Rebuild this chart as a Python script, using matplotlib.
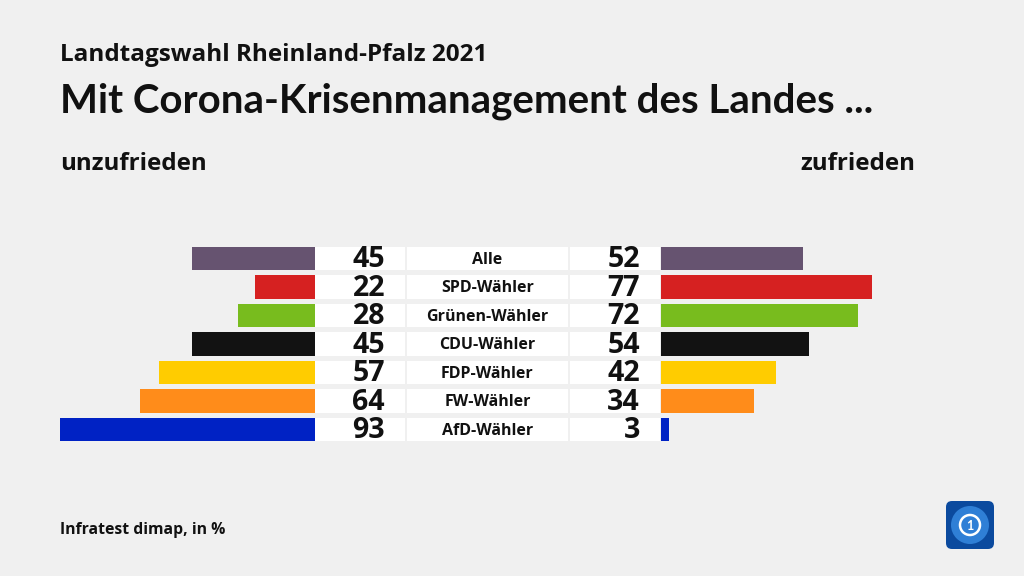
import matplotlib.pyplot as plt
from matplotlib.patches import FancyBboxPatch, Circle

# ---------- Daten ----------
gruppen = ["Alle", "SPD-Wähler", "Grünen-Wähler", "CDU-Wähler", "FDP-Wähler", "FW-Wähler", "AfD-Wähler"]
unzufrieden = [45, 22, 28, 45, 57, 64, 93]
zufrieden = [52, 77, 72, 54, 42, 34, 3]
farben = ["#665370", "#d62121", "#78bc1e", "#121212", "#ffcc00", "#ff8c1a", "#0022c4"]
# ---------------------------

W, H = 1024, 576
bg = "#f0f0f0"
lato = ["Lato", "DejaVu Sans"]
osans = ["Open Sans", "DejaVu Sans"]
plt.rcParams["font.family"] = lato

fig = plt.figure(figsize=(W / 100, H / 100), dpi=100, facecolor=bg)

px_per_unit = 2.74
y_top, y_bot = 244.25, 443.75
n = len(gruppen)
ax_b = 1 - y_bot / H
ax_h = (y_bot - y_top) / H


def make_ax(x0, x1):
    ax = fig.add_axes([x0 / W, ax_b, (x1 - x0) / W, ax_h])
    ax.set_ylim(n - 0.5, -0.5)
    ax.axis("off")
    return ax


rows = list(range(n))
bar_h = 0.81

# linke Balken
ax_l = make_ax(315 - 100 * px_per_unit, 315)
ax_l.set_xlim(100, 0)
ax_l.barh(rows, unzufrieden, height=bar_h, color=farben)

# rechte Balken
ax_r = make_ax(661, 661 + 100 * px_per_unit)
ax_r.set_xlim(0, 100)
ax_r.barh(rows, zufrieden, height=bar_h, color=farben)

# Mitte: weiße Felder, Zahlen, Gruppen
ax_m = make_ax(315, 661)
ax_m.set_xlim(315, 661)
for left, width in [(315, 90), (407, 161), (570, 90)]:
    ax_m.barh(rows, width, left=left, height=bar_h, color="white")
for i in rows:
    ax_m.text(385, i + 0.04, str(unzufrieden[i]), ha="right", va="center", family=osans,
              fontsize=20.5, fontweight="bold", color="#111111")
    ax_m.text(640, i + 0.04, str(zufrieden[i]), ha="right", va="center", family=osans,
              fontsize=20.5, fontweight="bold", color="#111111")
    ax_m.text(487.5, i + 0.04, gruppen[i], ha="center", va="center", family=osans,
              fontsize=11.5, fontweight="bold", color="#111111")

# Titel
fig.text(60 / W, 1 - 61 / H, "Landtagswahl Rheinland-Pfalz 2021", fontsize=17.5, family=osans,
         fontweight="bold", color="#111111", va="baseline")
fig.text(60 / W, 1 - 112 / H, "Mit Corona-Krisenmanagement des Landes ...", fontsize=29,
         fontweight="bold", color="#111111", va="baseline")
fig.text(60 / W, 1 - 170 / H, "unzufrieden", fontsize=17.4, fontweight="bold", family=osans,
         color="#111111", va="baseline")
fig.text(915 / W, 1 - 170 / H, "zufrieden", fontsize=17.4, fontweight="bold", family=osans,
         color="#111111", va="baseline", ha="right")
fig.text(60 / W, 1 - 534 / H, "Infratest dimap, in %", fontsize=11.3, fontweight="bold",
         family=osans, color="#111111", va="baseline")

# Logo
ax_logo = fig.add_axes([945 / W, 1 - 550 / H, 50 / W, 50 / H])
ax_logo.set_xlim(0, 1)
ax_logo.set_ylim(0, 1)
ax_logo.axis("off")
ax_logo.add_patch(FancyBboxPatch((0.02, 0.02), 0.96, 0.96, boxstyle="round,pad=0,rounding_size=0.12",
                                 fc="#0b4a9e", ec="none"))
ax_logo.add_patch(Circle((0.5, 0.5), 0.38, fc="#2f7fd6", ec="none"))
ax_logo.add_patch(Circle((0.5, 0.5), 0.2, fc="none", ec="white", lw=1.8))
ax_logo.text(0.5, 0.48, "1", ha="center", va="center", color="white", fontsize=9, fontweight="bold")

fig.savefig("out.png", dpi=100, facecolor=bg)
